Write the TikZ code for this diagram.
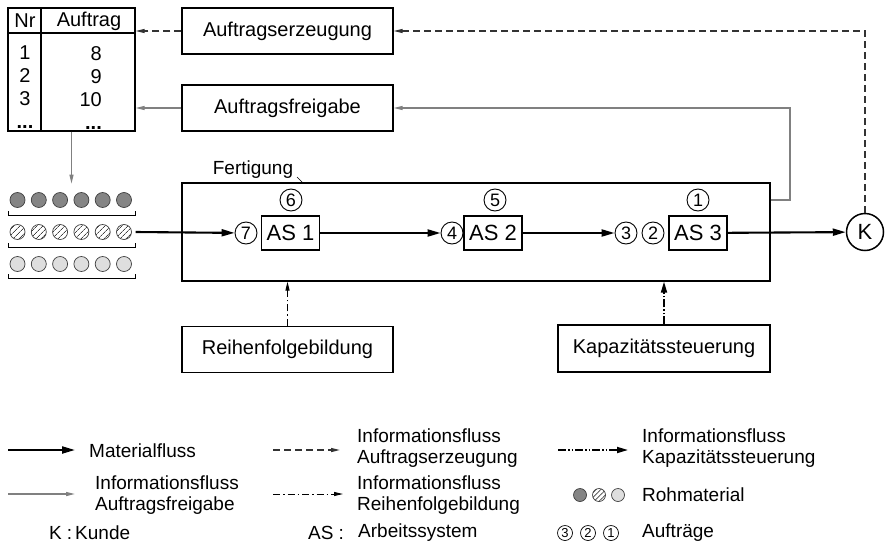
\documentclass[tikz,border=0pt]{standalone}
\usepackage{fontspec}
\setmainfont{Liberation Sans}
\usetikzlibrary{arrows.meta,patterns.meta}

\tikzset{
 box/.style={draw,line width=1.2pt,minimum width=211,minimum height=46,font=\fontsize{20}{24}\selectfont},
 asbox/.style={draw,line width=1.7pt,minimum width=58,minimum height=34,inner sep=0pt,font=\fontsize{22}{26}\selectfont},
 nr/.style={circle,draw,line width=0.9pt,minimum size=22,inner sep=0pt,font=\fontsize{18}{18}\selectfont},
 nrsmall/.style={nr,minimum size=15,line width=0.7pt,font=\fontsize{13}{13}\selectfont},
 mat/.style={circle,draw=black!75,line width=0.7pt,minimum size=15,inner sep=0pt},
 tabtext/.style={inner sep=1pt},
 tabcol/.style={inner sep=1pt,anchor=north,font=\fontsize{20}{23}\selectfont},
 matflow/.style={line width=2.1pt,-{Triangle[length=13pt,width=7pt]}},
 freigabe/.style={line width=1.2pt,black!50,-{Triangle[length=9pt,width=4pt]}},
 erzeugung/.style={line width=1.2pt,black!80,dash pattern=on 7pt off 4pt,-{Triangle[length=9pt,width=4pt]}},
 reihenflow/.style={line width=1pt,dash pattern=on 7pt off 3pt on 1.5pt off 3pt,-{Triangle[length=9pt,width=4pt]}},
 kapflow/.style={line width=1.7pt,dash pattern=on 8pt off 2pt on 1.5pt off 2pt on 1.5pt off 2pt,-{Triangle[length=11pt,width=6pt]}},
 legtext/.style={align=left,anchor=west,inner sep=0pt,font=\fontsize{19}{21}\selectfont},
}

\begin{document}
\begin{tikzpicture}[x=1pt,y=-1pt,font=\fontsize{20}{24}\selectfont]
\useasboundingbox (0,0) rectangle (888,546);

% Auftragstabelle
\node[draw,line width=1.2pt,minimum width=127,minimum height=123,inner sep=0pt] (tab) at (71.5,69.5) {};
\draw[line width=1.2pt] (tab.west |- 0,33) -- (tab.east |- 0,33);
	\draw[line width=1.2pt] (41,8) -- (41,131);
\node[tabtext] (nrkopf) at (25,21) {Nr};
\node[tabtext] (auftragkopf) at (89,21) {Auftrag};
\node[tabcol,align=center] (nrspalte) at (25,45) {1\\2\\3\\\textbf{...}};
\node[tabcol,align=right,anchor=north east] (aufspalte) at (103,45) {8\\9\\10\\\textbf{...}\hspace{4pt}};

\node[box] (auftragserz) at (287.5,31) {Auftragserzeugung};
\node[box] (freigabe) at (287.5,108) {Auftragsfreigabe};

% Rohmaterial
\foreach \i in {0,...,5}{
 \node[mat,fill=black!48] (dark\i) at ({17.5+21.3*\i},200) {};
 \node[mat,pattern={Lines[angle=45,distance=4pt,line width=0.8pt]},pattern color=black!75] (hatch\i) at ({17.5+21.3*\i},232) {};
 \node[mat,fill=black!13] (light\i) at ({17.5+21.3*\i},264) {};
}
\foreach \y in {215,247,278}
 \draw[line width=1pt] (8,\y-4) -- (8,\y) -- (135,\y) -- (135,\y-4);

% Fertigung
\node[draw,line width=1.2pt,minimum width=588,minimum height=98] (fert) at (476,232) {};
\node[font=\fontsize{19}{22}\selectfont] (fertlbl) at (253,170) {Fertigung};
\draw[line width=0.6pt] (297,177) -- (303,183);

\node[asbox] (as1) at (290.5,233) {AS 1};
\node[asbox] (as2) at (493,233) {AS 2};
\node[asbox] (as3) at (698,233) {AS 3};
\node[nr] (n7) at (246,233) {7};
\node[nr] (n6) at (291,200) {6};
\node[nr] (n4) at (452,233) {4};
\node[nr] (n5) at (495,200) {5};
\node[nr] (n3) at (626,233) {3};
\node[nr] (n2) at (653,233) {2};
\node[nr] (n1) at (698,200) {1};
\node[circle,draw,line width=1.5pt,minimum size=37,inner sep=0pt,font=\fontsize{22}{26}\selectfont] (kunde) at (865,232) {K};

\node[box] (rfb) at (287.5,349.5) {Reihenfolgebildung};
\node[box,minimum width=212,minimum height=47] (kapst) at (664,348.5) {Kapazitätssteuerung};

\draw[matflow] (tab.east |- hatch5) -- (n7);
\draw[matflow] (as1) -- (n4);
\draw[matflow] (as2) -- (n3);
\draw[matflow] (as3) -- (kunde);

\draw[erzeugung] (auftragserz.west) -- (auftragserz.west -| tab.east);
\draw[freigabe] (freigabe.west) -- (freigabe.west -| tab.east);
\draw[freigabe] (tab.south) -- ++(0,52);

\coordinate (fb) at (790,108);
\draw[freigabe] (fert.east |- n1) -| (fb) -- (freigabe.east);
\draw[erzeugung] (kunde.north) |- (auftragserz.east);

\draw[reihenflow] (rfb.north) -- (rfb.north |- fert.south);
\draw[kapflow] (kapst.north) -- (kapst.north |- fert.south);

% Legende
\coordinate (lmat) at (8,450);
\coordinate (lerz) at (273,450);
\coordinate (lkap) at (558,450);
\coordinate (lfrei) at (8,494);
\coordinate (lreihe) at (273,494);
\draw[matflow] (lmat) -- ++(67,0);
\draw[erzeugung] (lerz) -- ++(67,0);
\draw[kapflow] (lkap) -- ++(70,0);
\draw[freigabe] (lfrei) -- ++(67,0);
\draw[reihenflow] (lreihe) -- ++(70,0);

\node[legtext] (tmat) at (89,451) {Materialfluss};
\node[legtext] (terz) at (357,448) {Informationsfluss\\Auftragserzeugung};
\node[legtext] (tkap) at (642,448) {Informationsfluss\\Kapazitätssteuerung};
\node[legtext] (tfrei) at (95,495) {Informationsfluss\\Auftragsfreigabe};
\node[legtext] (treihe) at (357,495) {Informationsfluss\\Reihenfolgebildung};

\node[mat,minimum size=13,fill=black!48] (rm1) at (580,495) {};
\node[mat,minimum size=13,pattern={Lines[angle=45,distance=3.5pt,line width=0.7pt]},pattern color=black!75] (rm2) at (599,495) {};
\node[mat,minimum size=13,fill=black!13] (rm3) at (618,495) {};
\node[legtext] (trm) at (642,495) {Rohmaterial};

\node[legtext] (tk) at (49,533) {K\hspace{5pt}:};
\node[legtext] (tkunde) at (75,533) {Kunde};
\node[legtext] (tas) at (308,533) {AS\hspace{5pt}:};
\node[legtext] (tarb) at (358,533) {Arbeitssystem};
\node[nrsmall] (ln3) at (565,533) {3};
\node[nrsmall] (ln2) at (588,533) {2};
\node[nrsmall] (ln1) at (611,533) {1};
\node[legtext] (tauf) at (642,533) {Aufträge};
\end{tikzpicture}
\end{document}
